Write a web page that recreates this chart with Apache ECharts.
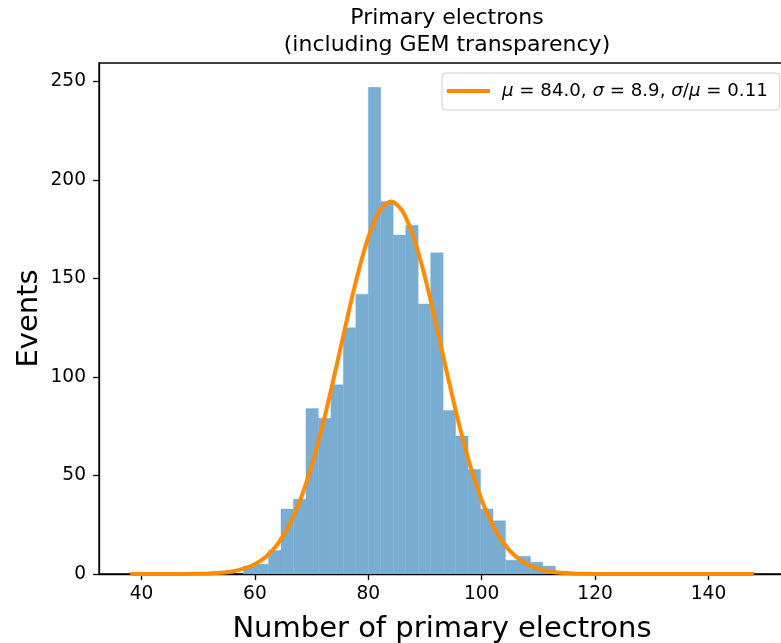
<!DOCTYPE html>
<html>
<head>
<meta charset="utf-8">
<script src="https://cdn.jsdelivr.net/npm/echarts@6/dist/echarts.min.js"></script>
<style>
html,body{margin:0;padding:0;background:#fff;overflow:hidden;}
#chart{width:781px;height:643px;}
</style>
</head>
<body>
<div id="chart"></div>
<script>
// Histogram bin edges (number of primary electrons)
const binEdges = [58, 60.2, 62.4, 64.6, 66.8, 69, 71.2, 73.4, 75.6, 77.8, 80, 82.2, 84.4, 86.6, 88.8, 91, 93.2, 95.4, 97.6, 99.8, 102, 104.2, 106.4, 108.6, 110.8, 113];
// Events per bin
const counts = [4, 5, 12, 33, 38, 84, 79, 96, 125, 142, 247, 189, 172, 177, 137, 163, 83, 70, 53, 33, 27, 7, 9, 6, 4];
const fitX = [38, 44, 48, 50, 52, 54, 56, 58, 60, 62, 64, 66, 68, 70, 72, 74, 76, 78, 80, 82, 84, 86, 88, 90, 92, 94, 96, 98, 100, 102, 104, 106, 108, 110, 112, 114, 116, 118, 120, 124, 136, 148];
const fitY = [0, 0, 0.05, 0.13, 0.29, 0.64, 1.3, 2.7, 5.0, 8.9, 15.1, 24.5, 37.6, 54.8, 76.1, 100.5, 126.2, 150.6, 170.8, 184.3, 189, 184.3, 170.8, 150.6, 126.2, 100.5, 76.1, 54.8, 37.6, 24.5, 15.1, 8.9, 5.0, 2.7, 1.3, 0.64, 0.29, 0.13, 0.05, 0, 0, 0];
const xTicks = [40, 60, 80, 100, 120, 140];
const yTicks = [0, 50, 100, 150, 200, 250];
const fitLabel = '{i|μ} = 84.0, {i|σ} = 8.9, {i|σ}/{i|μ} = 0.11';

const FONT = 'DejaVu Sans';
const chart = echarts.init(document.getElementById('chart'), null, {renderer: 'canvas'});

const histData = counts.map((c, i) => [binEdges[i], binEdges[i + 1], c]);
const fitData = fitX.map((x, i) => [x, fitY[i]]);

const option = {
  animation: false,
  backgroundColor: '#fff',
  title: {
    text: 'Primary electrons\n(including GEM transparency)',
    left: 442,
    top: 0,
    textAlign: 'center',
    textStyle: {fontFamily: FONT, fontSize: 22, fontWeight: 'normal', color: '#000', lineHeight: 27}
  },
  grid: {left: 99, top: 63, width: 686, height: 511, outerBoundsMode: 'none', containLabel: false, show: true, borderColor: '#000', borderWidth: 1.3, backgroundColor: 'transparent'},
  legend: {
    show: true,
    data: [{name: 'fit', icon: 'rect'}],
    left: 442,
    top: 73,
    padding: [9, 12, 10, 5],
    backgroundColor: '#fff',
    borderColor: '#d0d0d0',
    borderWidth: 1,
    borderRadius: 4,
    itemWidth: 43,
    itemHeight: 4,
    formatter: () => fitLabel,
    textStyle: {
      fontFamily: FONT, fontSize: 18.2, color: '#000', padding: [0, 0, 0, 7],
      rich: {i: {fontFamily: FONT, fontSize: 18.2, fontStyle: 'italic', color: '#000'}}
    }
  },
  xAxis: {
    type: 'value',
    min: 32.5,
    max: 153.5,
    name: 'Number of primary electrons',
    nameLocation: 'middle',
    nameGap: 41,
    nameTextStyle: {fontFamily: FONT, fontSize: 29, color: '#000'},
    axisLine: {show: true, onZero: false, lineStyle: {color: '#000', width: 1.3}},
    axisTick: {show: true, length: 6, lineStyle: {color: '#000', width: 1.3}, customValues: xTicks},
    axisLabel: {fontFamily: FONT, fontSize: 18.6, color: '#000', margin: 11, customValues: xTicks},
    splitLine: {show: false}
  },
  yAxis: {
    type: 'value',
    min: 0,
    max: 259.35,
    name: 'Events',
    nameLocation: 'middle',
    nameGap: 55,
    nameMoveOverlap: false,
    nameTextStyle: {fontFamily: FONT, fontSize: 29, color: '#000'},
    axisLine: {show: true, lineStyle: {color: '#000', width: 1.3}},
    axisTick: {show: true, length: 6, lineStyle: {color: '#000', width: 1.3}, customValues: yTicks},
    axisLabel: {fontFamily: FONT, fontSize: 18.6, color: '#000', margin: 13, customValues: yTicks},
    splitLine: {show: false}
  },
  series: [
    {
      type: 'custom',
      name: 'hist',
      clip: true,
      encode: {x: [0, 1], y: 2},
      data: histData,
      renderItem: function (params, api) {
        const p0 = api.coord([api.value(0), api.value(2)]);
        const p1 = api.coord([api.value(1), 0]);
        return {
          type: 'rect',
          shape: {x: p0[0], y: p0[1], width: p1[0] - p0[0], height: p1[1] - p0[1]},
          style: {fill: '#79add2', stroke: '#79add2', lineWidth: 0.4}
        };
      },
      z: 1
    },
    {
      type: 'line',
      name: 'fit',
      data: fitData,
      smooth: 0.3,
      symbol: 'none',
      color: '#ff8c00',
      lineStyle: {color: '#ff8c00', width: 4},
      z: 2
    }
  ]
};
chart.setOption(option);
</script>
</body>
</html>
